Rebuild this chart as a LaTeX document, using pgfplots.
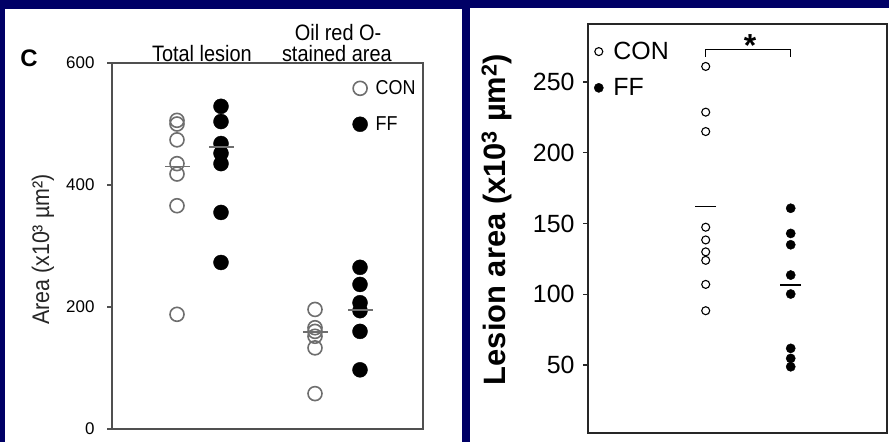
\documentclass[border=0pt]{standalone}
\usepackage{pgfplots}
\pgfplotsset{compat=1.18}
\usepackage{fontspec}
\setmainfont{Liberation Sans}
\definecolor{bgnavy}{RGB}{0,0,102}
\definecolor{framegray}{RGB}{80,80,80}
\definecolor{congray}{RGB}{110,110,110}

\pgfplotstableread{
x y
65 506
65 500
65 474
65 435
65 418
65 366
65 188
203 196
203 166
203 160
203 152
203 133
203 58
}\leftcon
\pgfplotstableread{
x y
109 529
109 504
109 468
109 452
109 435
109 355
109 273
248 265
248 237
248 207
248 194
248 160
248 97
}\leftff
\pgfplotstableread{
x y
65 430
109 462
203 159
248 195
}\leftmean
\pgfplotstableread{
x y
117.7 261
117.7 228.7
117.7 215
117.7 147.4
117.7 138.4
117.7 130
117.7 124
117.7 107
117.7 88.4
}\rightcon
\pgfplotstableread{
x y
202.7 160.8
202.7 143
202.7 135
202.7 113.6
202.7 100.2
202.7 61.8
202.7 54.7
202.7 48.8
}\rightff
\pgfplotstableread{
x y
117.7 162
202.7 106.6
}\rightmean

\newcommand{\tall}[1]{\scalebox{1}[1.12]{#1}}

\begin{document}
\begin{tikzpicture}[x=1bp,y=1bp]
\fill[bgnavy] (0,0) rectangle (889,442);
\fill[white] (5,0) rectangle (462,433);
\fill[white] (470,0) rectangle (889,434);

% ---------------- left panel ----------------
\begin{axis}[
  at={(112bp,13bp)}, anchor=south west, scale only axis,
  width=311bp, height=366bp,
  xmin=0, xmax=311, ymin=0, ymax=600,
  xtick=\empty, ytick={0,200,400,600}, ytick pos=left,
  tick align=outside, major tick length=5bp,
  axis line style={framegray, line width=1.5bp},
  every tick/.style={framegray, line width=1.2bp},
  /pgf/number format/assume math mode=true,
  yticklabel style={font=\fontsize{17}{17}\selectfont, text=black, xshift=-9bp},
  ylabel={\tall{Area (x10³ µm²)}},
  ylabel style={at={(axis description cs:-0.222,0.49)}, anchor=center,
                font=\fontsize{21.5}{21.5}\selectfont, text=black!85},
  clip=false,
  legend style={at={(axis description cs:0.773,0.958)}, anchor=north west,
                draw=none, fill=none, font=\fontsize{18}{18}\selectfont,
                row sep=16.5bp, inner sep=0pt,
                nodes={inner sep=2bp, text=black}},
  legend cell align=left,
  legend image code/.code={\draw[#1] plot coordinates {(0bp,0bp)};},
]
\addplot[only marks, mark=o, mark size=7bp, congray,
         mark options={line width=1.6bp}] table {\leftcon};
\addlegendentry{\hspace{6bp}\tall{CON}}
\addplot[only marks, mark=*, mark size=7.5bp, black] table {\leftff};
\addlegendentry{\hspace{6bp}\tall{FF}}
\addplot[only marks, mark=-, mark size=12.5bp, congray,
         mark options={line width=1.6bp}, forget plot] table {\leftmean};
\node[font=\bfseries\fontsize{24}{24}\selectfont, anchor=center]
  at (axis description cs:-0.267,1.014) {C};
\node[font=\fontsize{20}{20}\selectfont, anchor=base, text=black]
  at (axis description cs:0.289,1.004) {\tall{Total lesion}};
\node[font=\fontsize{20}{20}\selectfont, anchor=base, text=black]
  at (axis description cs:0.723,1.004) {\tall{stained area}};
\node[font=\fontsize{20}{20}\selectfont, anchor=base, text=black]
  at (axis description cs:0.727,1.061) {\tall{Oil red O-}};
\end{axis}

% ---------------- right panel ----------------
\begin{axis}[
  at={(588bp,9bp)}, anchor=south west, scale only axis,
  width=299bp, height=409bp,
  xmin=0, xmax=299, ymin=2, ymax=291,
  xtick=\empty, ytick={50,100,150,200,250}, ytick pos=left,
  tick align=outside, major tick length=5bp,
  axis line style={black!85, line width=1.5bp},
  every tick/.style={black!85, line width=1.2bp},
  /pgf/number format/assume math mode=true,
  yticklabel style={font=\fontsize{25}{25}\selectfont, xshift=-5bp},
  ylabel={Lesion area (x10\textsuperscript{3} µm\textsuperscript{2})},
  ylabel style={at={(axis description cs:-0.305,0.522)}, anchor=center,
                font=\bfseries\fontsize{31}{31}\selectfont},
  clip=false,
  legend style={at={(axis description cs:0.02,0.961)}, anchor=north west,
                draw=none, fill=none, font=\fontsize{25}{25}\selectfont,
                row sep=13.5bp, inner sep=0pt,
                nodes={inner sep=2bp}},
  legend cell align=left,
  legend image code/.code={\draw[#1] plot coordinates {(0bp,0bp)};},
]
\addplot[only marks, mark=o, mark size=4bp, black,
         mark options={line width=1.1bp}] table {\rightcon};
\addlegendentry{\hspace{8bp}CON}
\addplot[only marks, mark=*, mark size=4.6bp, black] table {\rightff};
\addlegendentry{\hspace{8bp}FF}
\addplot[only marks, mark=-, mark size=10.5bp, black,
         mark options={line width=1.5bp}, forget plot] table {\rightmean};
\addplot[black, line width=1.1bp, forget plot] coordinates
  {(117.7,268) (117.7,272.9) (202.7,272.9) (202.7,268)};
\node[font=\bfseries\fontsize{32}{32}\selectfont, anchor=base]
  at (axis cs:162,268) {*};
\end{axis}
\end{tikzpicture}
\end{document}
